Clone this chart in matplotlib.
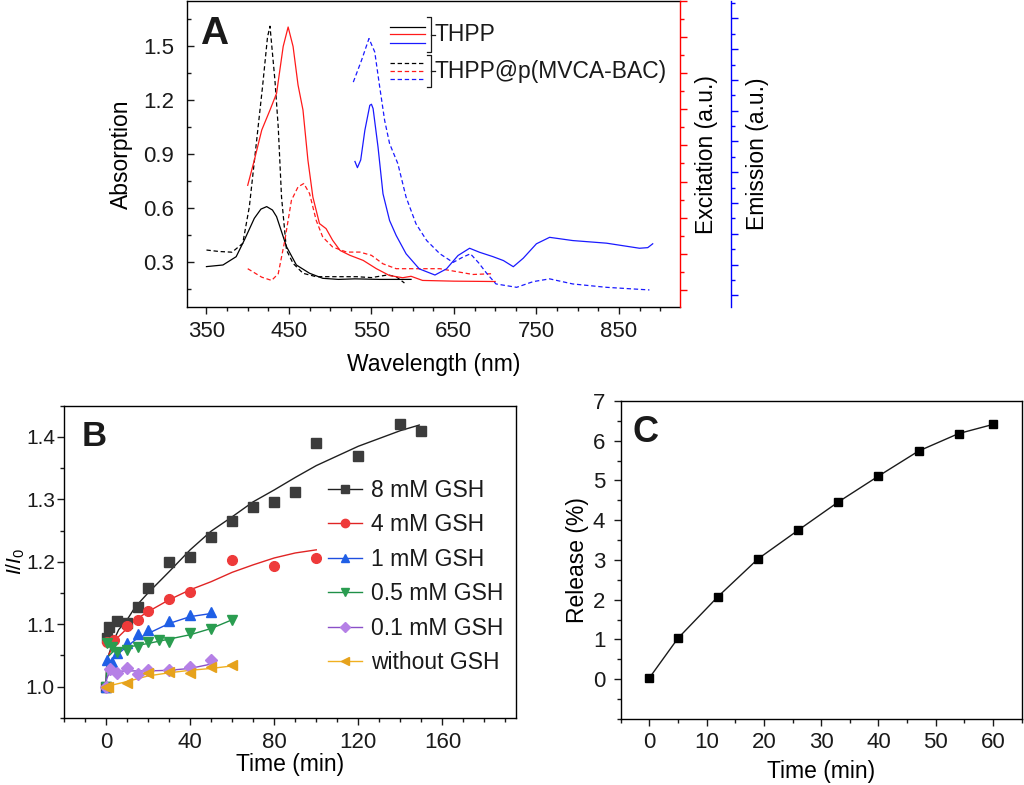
import matplotlib
matplotlib.use("Agg")
import matplotlib.pyplot as plt
from matplotlib.ticker import MultipleLocator, FixedLocator, NullFormatter

plt.rcParams['font.family'] = ['Liberation Sans', 'DejaVu Sans']
plt.rcParams['mathtext.fontset'] = 'custom'
plt.rcParams['mathtext.it'] = 'Liberation Sans:italic'
plt.rcParams['mathtext.rm'] = 'Liberation Sans'
plt.rcParams['axes.linewidth'] = 1.0
plt.rcParams['text.color'] = '#1a1a1a'
plt.rcParams['xtick.color'] = '#1a1a1a'
plt.rcParams['ytick.color'] = '#1a1a1a'

# ---------------- panel A: spectra ----------------
# absorption, left axis
abs_thpp_nm = [350, 370, 386, 396, 408, 416, 423, 430, 435, 447, 459, 475, 491, 510, 530, 560, 598]
abs_thpp = [0.276, 0.285, 0.331, 0.424, 0.544, 0.595, 0.609, 0.59, 0.553, 0.387, 0.285, 0.239, 0.211, 0.205, 0.208, 0.205, 0.205]
abs_poly_nm = [350, 365, 381, 394, 402, 410, 418, 424, 427, 433, 437, 441, 447, 455, 467, 483, 508, 532, 550, 570, 580, 590]
abs_poly = [0.368, 0.36, 0.356, 0.405, 0.609, 0.942, 1.276, 1.55, 1.61, 1.31, 1.05, 0.662, 0.368, 0.294, 0.239, 0.22, 0.22, 0.22, 0.215, 0.23, 0.22, 0.185]

# excitation, red axis (a.u.)
exc_thpp_nm = [400, 408, 417, 427, 435, 443, 449, 455, 461, 467, 473, 479, 487, 495, 503, 512, 524, 540, 556, 572, 588, 598, 612, 650, 700]
exc_thpp = [5.79, 7.18, 8.85, 9.96, 10.89, 13.48, 14.56, 13.48, 11.35, 9.96, 7.18, 5.14, 3.67, 3.39, 2.74, 2.18, 1.91, 1.63, 1.17, 0.79, 0.67, 0.75, 0.52, 0.48, 0.46]
exc_poly_nm = [400, 417, 429, 437, 445, 453, 461, 468, 475, 483, 491, 503, 520, 536, 550, 564, 580, 605, 633, 673, 695]
exc_poly = [1.17, 0.70, 0.52, 0.89, 2.74, 4.96, 5.70, 5.89, 5.33, 3.85, 2.92, 2.37, 2.09, 2.09, 1.91, 1.44, 1.17, 1.17, 1.17, 0.85, 0.89]

# emission, blue axis (a.u.)
emi_thpp_nm = [530, 533, 537, 542, 548, 550, 552, 558, 564, 572, 580, 592, 608, 627, 641, 655, 669, 681, 697, 710, 722, 734, 750, 766, 794, 835, 875, 885, 891]
emi_thpp = [8.7, 8.3, 8.8, 10.72, 12.35, 12.42, 12.14, 9.63, 6.60, 4.86, 3.89, 2.70, 1.72, 1.32, 1.72, 2.59, 3.06, 2.80, 2.52, 2.26, 1.86, 2.41, 3.35, 3.77, 3.56, 3.39, 3.06, 3.1, 3.35]
emi_poly_nm = [528, 538, 547, 554, 560, 566, 572, 582, 592, 604, 617, 633, 649, 660, 670, 680, 690, 701, 726, 746, 766, 794, 835, 887]
emi_poly = [13.86, 15.28, 16.69, 15.82, 13.55, 11.37, 9.86, 8.56, 6.38, 4.65, 3.56, 2.70, 2.14, 2.46, 2.70, 2.11, 1.41, 0.74, 0.52, 0.89, 1.07, 0.74, 0.52, 0.35]

wl_ticks = [350, 450, 550, 650, 750, 850]
abs_ticks = [0.3, 0.6, 0.9, 1.2, 1.5]

# ---------------- panel B: I/I0 vs time ----------------
gsh_labels = ['8 mM GSH', '4 mM GSH', '1 mM GSH', '0.5 mM GSH', '0.1 mM GSH', 'without GSH']
gsh_colors = ['#3c3c3c', '#ee3a3a', '#1f5fe6', '#2a9d50', '#b580e6', '#e6a21c']
fit_colors = ['#202020', '#e02424', '#1f4fe0', '#1f9048', '#8a50c8', '#f0b020']
gsh_markers = ['s', 'o', '^', 'v', 'D', '<']

t_8 = [0, 0.5, 1.5, 5, 10, 15, 20, 30, 40, 50, 60, 70, 80, 90, 100, 120, 140, 150]
r_8 = [1.0, 1.077, 1.096, 1.105, 1.101, 1.127, 1.158, 1.200, 1.208, 1.240, 1.265, 1.287, 1.295, 1.312, 1.391, 1.370, 1.421, 1.410]
t_4 = [0, 0.5, 4, 10, 15, 20, 30, 40, 60, 80, 100]
r_4 = [1.0, 1.072, 1.074, 1.097, 1.106, 1.121, 1.140, 1.151, 1.203, 1.193, 1.206]
t_1 = [0, 0.5, 3, 5, 10, 15, 20, 30, 40, 50]
r_1 = [1.0, 1.043, 1.040, 1.053, 1.069, 1.084, 1.091, 1.105, 1.114, 1.119]
t_05 = [0, 0.5, 3, 5, 10, 15, 20, 25, 30, 40, 50, 60]
r_05 = [1.0, 1.069, 1.064, 1.056, 1.059, 1.064, 1.072, 1.074, 1.072, 1.085, 1.092, 1.107]
t_01 = [0, 2, 5, 10, 15, 20, 30, 40, 50]
r_01 = [1.0, 1.028, 1.021, 1.029, 1.020, 1.027, 1.027, 1.031, 1.042]
t_0 = [0, 1, 10, 20, 30, 40, 50, 60]
r_0 = [1.0, 0.999, 1.005, 1.022, 1.024, 1.022, 1.031, 1.034]

# fitted curves
ft_8 = [0, 0.3, 1, 3, 6, 10, 14, 20, 30, 40, 50, 60, 70, 80, 90, 100, 120, 140, 149]
fr_8 = [1.0, 1.03, 1.048, 1.069, 1.091, 1.107, 1.128, 1.150, 1.184, 1.219, 1.249, 1.272, 1.296, 1.315, 1.335, 1.354, 1.385, 1.410, 1.419]
ft_4 = [0, 0.3, 1, 3, 6, 10, 14, 20, 30, 40, 50, 60, 70, 80, 90, 100]
fr_4 = [1.0, 1.03, 1.048, 1.064, 1.080, 1.093, 1.107, 1.120, 1.139, 1.155, 1.168, 1.183, 1.195, 1.206, 1.214, 1.219]
ft_1 = [0, 0.3, 1, 4, 10, 14, 20, 30, 40, 50]
fr_1 = [1.0, 1.025, 1.037, 1.048, 1.064, 1.075, 1.085, 1.101, 1.112, 1.117]
ft_05 = [0, 0.3, 1, 4, 10, 20, 30, 40, 50, 60]
fr_05 = [1.0, 1.03, 1.048, 1.058, 1.063, 1.069, 1.076, 1.083, 1.093, 1.107]
ft_01 = [0, 0.3, 1, 3, 10, 20, 30, 40, 50]
fr_01 = [1.0, 1.012, 1.018, 1.024, 1.025, 1.025, 1.026, 1.029, 1.036]
ft_0 = [0, 10, 20, 30, 40, 50, 60]
fr_0 = [1.0, 1.008, 1.017, 1.022, 1.026, 1.029, 1.033]

# ---------------- panel C: release ----------------
rel_t = [0, 5, 12, 19, 26, 33, 40, 47, 54, 60]
rel_pct = [0.03, 1.03, 2.08, 3.03, 3.75, 4.46, 5.11, 5.74, 6.18, 6.41]
rel_ticks = [0, 1, 2, 3, 4, 5, 6, 7]

TICK_FS = 16
LABEL_FS = 16.5

fig = plt.figure(figsize=(10.24, 7.85), dpi=100)

# ======== A ========
ax = fig.add_axes([0.1823, 0.6085, 0.4817, 0.3902])
dash = (3.5, 2.2)
ax.plot(abs_thpp_nm, abs_thpp, color='black', lw=0.9)
ax.plot(abs_poly_nm, abs_poly, color='black', lw=0.9, ls=(0, dash))
ax.set_xlim(326, 924)
ax.set_ylim(0.05, 1.75)
ax.xaxis.set_major_locator(FixedLocator(wl_ticks))
ax.xaxis.set_minor_locator(MultipleLocator(25))
ax.yaxis.set_major_locator(FixedLocator(abs_ticks))
ax.yaxis.set_minor_locator(MultipleLocator(0.15))
ax.tick_params(axis='x', which='major', direction='out', length=5, width=1, labelsize=TICK_FS, pad=5)
ax.tick_params(axis='x', which='minor', direction='out', length=3, width=1)
ax.tick_params(axis='y', which='major', direction='in', length=5, width=1, labelsize=TICK_FS, pad=9)
ax.tick_params(axis='y', which='minor', direction='in', length=3, width=1)
ax.spines['right'].set_visible(False)
ax.set_xlabel('Wavelength (nm)', fontsize=LABEL_FS, labelpad=8)
ax.set_ylabel('Absorption', fontsize=LABEL_FS, labelpad=7)
ax.text(0.027, 0.95, 'A', transform=ax.transAxes, fontsize=28, fontweight='bold', va='top', ha='left')

ax_r = ax.twinx()
ax_r.plot(exc_thpp_nm, exc_thpp, color='#ff1a1a', lw=0.9)
ax_r.plot(exc_poly_nm, exc_poly, color='#ff1a1a', lw=0.9, ls=(0, dash))
ax_r.set_ylim(-0.97, 16.0)
ax_r.yaxis.set_major_locator(MultipleLocator(2))
ax_r.yaxis.set_minor_locator(MultipleLocator(1))
ax_r.yaxis.set_major_formatter(NullFormatter())
ax_r.tick_params(axis='y', which='major', direction='out', length=5, width=1, color='red')
ax_r.tick_params(axis='y', which='minor', direction='out', length=3, width=1, color='red')
for s in ['left', 'top', 'bottom']:
    ax_r.spines[s].set_visible(False)
ax_r.spines['right'].set_color('red')
ax_r.set_ylabel('Excitation (a.u.)', fontsize=LABEL_FS, labelpad=2)

ax_b = ax.twinx()
ax_b.plot(emi_thpp_nm, emi_thpp, color='#1a1aff', lw=0.9)
ax_b.plot(emi_poly_nm, emi_poly, color='#1a1aff', lw=0.9, ls=(0, dash))
ax_b.set_ylim(-0.78, 19.13)
ax_b.spines['right'].set_position(('axes', 1.1034))
ax_b.yaxis.set_major_locator(MultipleLocator(2))
ax_b.yaxis.set_minor_locator(MultipleLocator(1))
ax_b.yaxis.set_major_formatter(NullFormatter())
ax_b.tick_params(axis='y', which='major', direction='out', length=5, width=1, color='blue')
ax_b.tick_params(axis='y', which='minor', direction='out', length=3, width=1, color='blue')
for s in ['left', 'top', 'bottom']:
    ax_b.spines[s].set_visible(False)
ax_b.spines['right'].set_color('blue')
ax_b.set_ylabel('Emission (a.u.)', fontsize=LABEL_FS, labelpad=2)

# bracketed legend for panel A (axes fraction coords)
tr = ax.transAxes
for yy, c in zip([0.916, 0.891, 0.864], ['black', '#ff1a1a', '#1a1aff']):
    ax.plot([0.412, 0.483], [yy, yy], color=c, lw=0.9, transform=tr, clip_on=False)
for yy, c in zip([0.797, 0.771, 0.745], ['black', '#ff1a1a', '#1a1aff']):
    ax.plot([0.412, 0.483], [yy, yy], color=c, lw=0.9, ls=(0, dash), transform=tr, clip_on=False)
for top, bot in [(0.948, 0.833), (0.823, 0.718)]:
    mid = (top + bot) / 2
    ax.plot([0.487, 0.495, 0.495, 0.487], [top, top, bot, bot], color='#1a1a1a', lw=0.9, transform=tr)
    ax.plot([0.495, 0.503], [mid, mid], color='#1a1a1a', lw=0.9, transform=tr)
ax.text(0.503, 0.890, 'THPP', transform=tr, fontsize=16.5, va='center', ha='left')
ax.text(0.503, 0.770, 'THPP@p(MVCA-BAC)', transform=tr, fontsize=16.5, va='center', ha='left')

# ======== B ========
bx = fig.add_axes([0.0625, 0.0857, 0.4414, 0.3975])
series_t = [t_8, t_4, t_1, t_05, t_01, t_0]
series_r = [r_8, r_4, r_1, r_05, r_01, r_0]
fits_t = [ft_8, ft_4, ft_1, ft_05, ft_01, ft_0]
fits_r = [fr_8, fr_4, fr_1, fr_05, fr_01, fr_0]
handles = []
for i in range(6):
    bx.plot(fits_t[i], fits_r[i], color=fit_colors[i], lw=1.0, zorder=2)
    bx.plot(series_t[i], series_r[i], ls='none', marker=gsh_markers[i], ms=7 if gsh_markers[i] != 'D' else 6,
            color=gsh_colors[i], mec=gsh_colors[i], zorder=3)
    h, = bx.plot([], [], color=fit_colors[i], lw=1.0, marker=gsh_markers[i], ms=6 if gsh_markers[i] != 'D' else 5,
                 mfc=gsh_colors[i], mec=gsh_colors[i])
    handles.append(h)
bx.set_xlim(-20, 195)
bx.set_ylim(0.95, 1.45)
bx.xaxis.set_major_locator(MultipleLocator(40))
bx.xaxis.set_minor_locator(MultipleLocator(10))
bx.yaxis.set_major_locator(MultipleLocator(0.1))
bx.yaxis.set_minor_locator(MultipleLocator(0.05))
bx.yaxis.set_major_formatter(plt.FuncFormatter(lambda v, p: f'{v:.1f}'))
bx.tick_params(which='major', direction='out', length=5, width=1, labelsize=TICK_FS)
bx.tick_params(axis='y', labelsize=15)
bx.tick_params(which='minor', direction='out', length=3, width=1)
bx.tick_params(axis='x', pad=5.5)
bx.tick_params(axis='y', pad=1.5)
bx.set_xlabel('Time (min)', fontsize=LABEL_FS, labelpad=0)
bx.set_ylabel(r'$I/I_0$', fontsize=15)
bx.yaxis.set_label_coords(-0.082, 0.5)
bx.text(0.039, 0.955, 'B', transform=bx.transAxes, fontsize=25, fontweight='bold', va='top', ha='left')
bx.legend(handles, gsh_labels, loc='upper left', bbox_to_anchor=(0.585, 0.765), frameon=False,
          fontsize=16.5, handlelength=1.45, handletextpad=0.4, labelspacing=0.5, borderaxespad=0, borderpad=0)

# ======== C ========
cx = fig.add_axes([0.6061, 0.0841, 0.3916, 0.4051])
cx.plot(rel_t, rel_pct, color='#1a1a1a', lw=1.0, marker='s', ms=6, mfc='black', mec='black')
cx.set_xlim(-5, 65)
cx.set_ylim(-1, 7)
cx.xaxis.set_major_locator(MultipleLocator(10))
cx.xaxis.set_minor_locator(MultipleLocator(5))
cx.yaxis.set_major_locator(FixedLocator(rel_ticks))
cx.yaxis.set_minor_locator(MultipleLocator(0.5))
cx.tick_params(which='major', direction='out', length=5, width=1, labelsize=TICK_FS)
cx.tick_params(which='minor', direction='out', length=3, width=1)
cx.tick_params(axis='x', pad=4.5)
cx.tick_params(axis='y', pad=6)
cx.set_xlabel('Time (min)', fontsize=LABEL_FS, labelpad=5)
cx.set_ylabel('Release (%)', fontsize=LABEL_FS, labelpad=3)
cx.text(0.03, 0.956, 'C', transform=cx.transAxes, fontsize=26, fontweight='bold', va='top', ha='left')

fig.savefig('out.png', dpi=100)
